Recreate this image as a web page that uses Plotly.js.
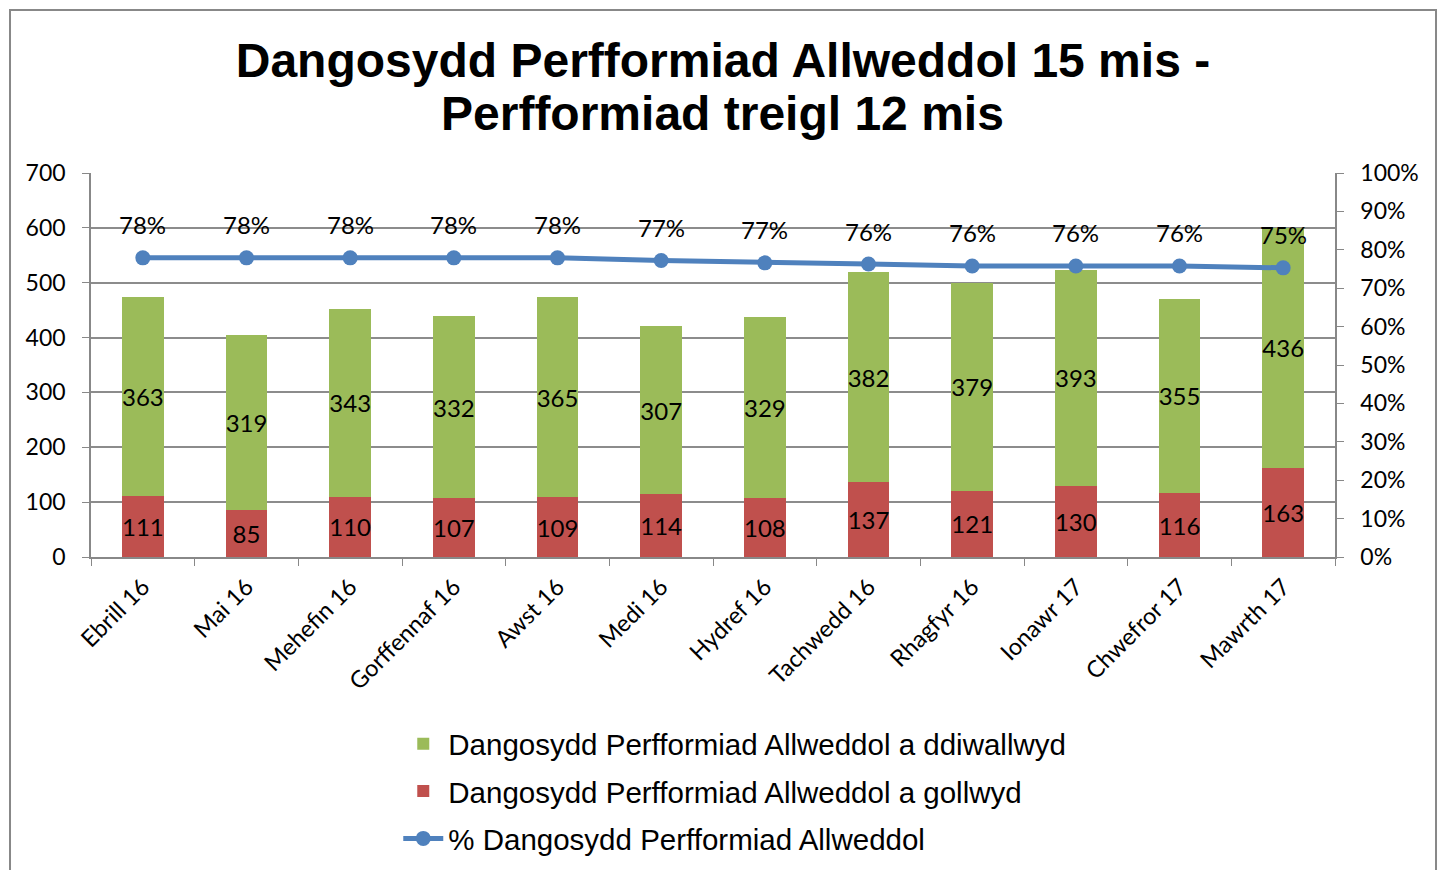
<!DOCTYPE html>
<html><head><meta charset="utf-8">
<script src="https://cdn.plot.ly/plotly-3.0.1.min.js"></script>
<style>html,body{margin:0;padding:0;background:#fff}#chart{width:1446px;height:870px}</style>
</head><body><div id="chart"></div>
<script>
const categories = ["Ebrill 16","Mai 16","Mehefin 16","Gorffennaf 16","Awst 16","Medi 16","Hydref 16","Tachwedd 16","Rhagfyr 16","Ionawr 17","Chwefror 17","Mawrth 17"];
const missed = [111,85,110,107,109,114,108,137,121,130,116,163];
const met = [363,319,343,332,365,307,329,382,379,393,355,436];
const pct = [0.779,0.779,0.779,0.779,0.779,0.772,0.766,0.763,0.758,0.758,0.758,0.753];
const pctLabels = ["78%","78%","78%","78%","78%","77%","77%","76%","76%","76%","76%","75%"];
const titleLine1 = "Dangosydd Perfformiad Allweddol 15 mis -";
const titleLine2 = "Perfformiad treigl 12 mis";

const FONT = "Lato, 'Open Sans', sans-serif";
const lblFont = {family:FONT, size:24, color:"#000"};

const traces = [
  {type:"bar", x:categories, y:missed, name:"Dangosydd Perfformiad Allweddol a gollwyd",
   marker:{color:"#C0504D"}, width:0.405, text:missed.map(String), textposition:"inside",
   insidetextanchor:"middle", textangle:0, textfont:lblFont, constraintext:"none",
   legendrank:2, legendgroup:"b", hoverinfo:"x+y"},
  {type:"bar", x:categories, y:met, name:"Dangosydd Perfformiad Allweddol a ddiwallwyd",
   marker:{color:"#9BBB59"}, width:0.405, text:met.map(String), textposition:"inside",
   insidetextanchor:"middle", textangle:0, textfont:lblFont, constraintext:"none",
   legendrank:1, legendgroup:"a", hoverinfo:"x+y"},
  {type:"scatter", mode:"lines+markers", x:categories, y:pct, yaxis:"y2",
   name:"% Dangosydd Perfformiad Allweddol", line:{color:"#4F81BD", width:5},
   marker:{color:"#4F81BD", size:15}, legendrank:3, legendgroup:"c"}
];

const annotations = categories.map((c,i)=>({x:c, y:pct[i], xref:"x", yref:"y2", text:pctLabels[i],
  showarrow:false, yshift:33, font:lblFont}));
annotations.push({text:"<b>"+titleLine2+"</b>", xref:"paper", yref:"paper", x:0.508, y:1.156,
  xanchor:"center", yanchor:"middle", showarrow:false,
  font:{family:"Liberation Sans, Arial, sans-serif", size:48, color:"#000"}});

const tickFont = {family:FONT, size:23, color:"#000"};
const layout = {
  width:1446, height:870,
  margin:{l:91, r:111, t:173, b:313},
  paper_bgcolor:"#fff", plot_bgcolor:"#fff",
  barmode:"stack",
  uniformtext:{mode:"show", minsize:24},
  title:{text:"<b>"+titleLine1+"</b>",
    font:{family:"Liberation Sans, Arial, sans-serif", size:48, color:"#000"},
    x:0.508, xref:"paper", xanchor:"center", y:1-60/870, yref:"container", yanchor:"middle"},
  xaxis:{type:"category", range:[-0.5,11.5], autorange:false, automargin:false,
    tickson:"boundaries", ticks:"outside", ticklen:7, tickcolor:"#888",
    showline:true, linecolor:"#888", linewidth:1.5, tickangle:-45, ticklabelstandoff:5,
    tickfont:{family:FONT, size:23.5, color:"#000"}, showgrid:false},
  yaxis:{range:[0,700], dtick:100, ticks:"outside", ticklen:7, tickcolor:"#888", automargin:false,
    showline:true, linecolor:"#888", linewidth:1.5, gridcolor:"#8c8c8c", gridwidth:1.5,
    zeroline:false, tickfont:tickFont, ticklabelstandoff:12},
  yaxis2:{range:[0,1], dtick:0.1, tickformat:".0%", overlaying:"y", side:"right", automargin:false,
    ticks:"outside", ticklen:7, tickcolor:"#888", showline:true, linecolor:"#888", linewidth:1.5,
    showgrid:false, zeroline:false, tickfont:tickFont, ticklabelstandoff:12},
  legend:{orientation:"v", x:0.247, xanchor:"left", xref:"paper", yref:"container",
    y:1-718/870, yanchor:"top",
    font:{family:"Liberation Sans, Arial, sans-serif", size:29.5, color:"#000"},
    tracegroupgap:6, itemwidth:40, bgcolor:"rgba(0,0,0,0)"},
  annotations:annotations,
  shapes:[{type:"rect", xref:"paper", yref:"paper", x0:-0.0651, x1:1.0812, y0:-0.9, y1:1.4245,
    line:{color:"#888", width:2}, fillcolor:"rgba(0,0,0,0)", layer:"below"}],
  showlegend:true
};
Plotly.newPlot("chart", traces, layout, {displayModeBar:false});
</script></body></html>
